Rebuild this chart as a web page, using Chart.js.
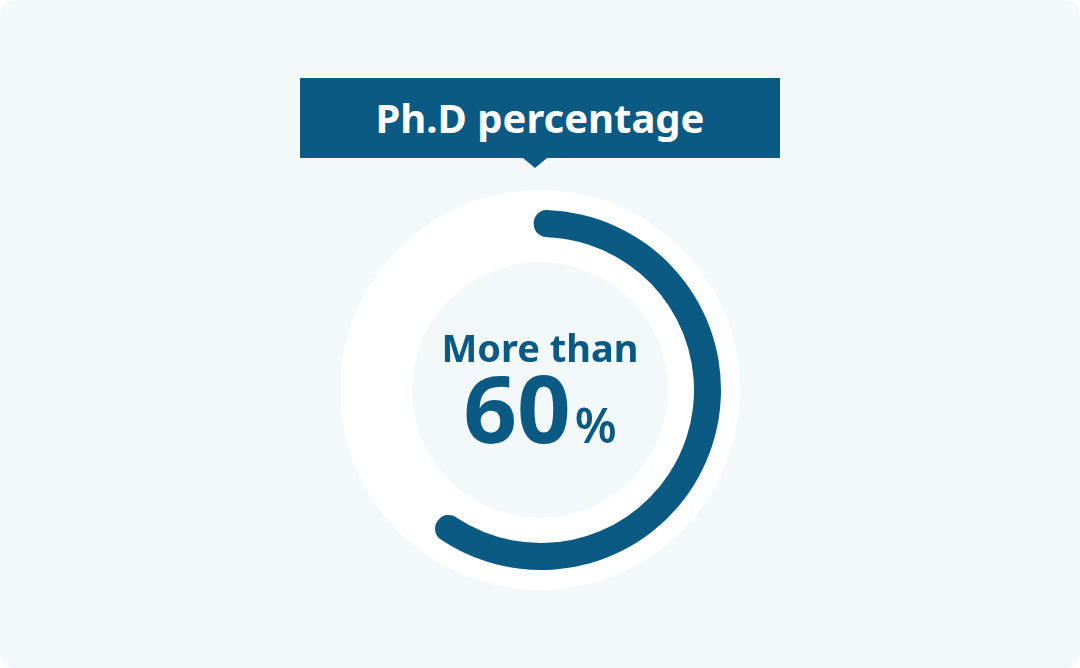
<!DOCTYPE html>
<html>
<head>
<meta charset="utf-8">
<script src="https://cdn.jsdelivr.net/npm/chart.js@4.4.1/dist/chart.umd.min.js"></script>
<style>
  html, body { margin: 0; padding: 0; background: #ffffff; }
  .card {
    position: relative; width: 1080px; height: 668px;
    background: #f3f8fb; border-radius: 16px; overflow: hidden;
    font-family: "Noto Sans", sans-serif; color: #0a5a84;
  }
  .title-box {
    position: absolute; left: 300px; top: 78px; width: 480px; height: 80px;
    background: #0a5a84; color: #fff; text-align: center;
    font-size: 40px; font-weight: 700; line-height: 80px;
  }
  .title-box::after {
    content: ""; position: absolute; left: 223px; bottom: -10px;
    border-left: 12px solid transparent; border-right: 12px solid transparent;
    border-top: 10px solid #0a5a84;
  }
  .chart-wrap { position: absolute; left: 341px; top: 190px; width: 400px; height: 400px; }
  .center-label { position: absolute; left: 0; width: 1080px; text-align: center; font-weight: 700; }
  .more { top: 322px; font-size: 38px; line-height: 50px; }
  .big { top: 360px; font-size: 94px; line-height: 94px; }
  .big span { font-size: 48px; font-weight: 600; margin-left: 4px; }
</style>
</head>
<body>
<div class="card">
  <div class="title-box">Ph.D percentage</div>
  <div class="chart-wrap"><canvas id="phdChart" width="400" height="400"></canvas></div>
  <div class="center-label more">More than</div>
  <div class="center-label big">60<span>%</span></div>
</div>
<script>
// data
const labels = ['Ph.D', 'Other'];
const values = [60, 40];
const colors = ['#0a5a84', 'rgba(0,0,0,0)'];

// white disc + light inner disc behind the ring
const backdrop = {
  id: 'backdrop',
  beforeDraw(chart) {
    const arc = chart.getDatasetMeta(0).data[0];
    if (!arc) return;
    const x = arc.x - 1;
    const y = arc.y;
    const ctx = chart.ctx;
    ctx.save();
    ctx.fillStyle = '#ffffff';
    ctx.beginPath();
    ctx.arc(x, y, 200, 0, Math.PI * 2);
    ctx.fill();
    ctx.fillStyle = '#f3f8fb';
    ctx.beginPath();
    ctx.arc(x, y, 128, 0, Math.PI * 2);
    ctx.fill();
    ctx.restore();
  }
};

new Chart(document.getElementById('phdChart'), {
  type: 'doughnut',
  data: {
    labels: labels,
    datasets: [{
      data: values,
      backgroundColor: colors,
      borderWidth: 0,
      borderRadius: 13
    }]
  },
  options: {
    responsive: false,
    animation: false,
    cutout: '85%',
    rotation: -2.5,
    circumference: 368,
    layout: { padding: 20 },
    plugins: {
      legend: { display: false },
      tooltip: { enabled: false }
    }
  },
  plugins: [backdrop]
});
</script>
</body>
</html>
